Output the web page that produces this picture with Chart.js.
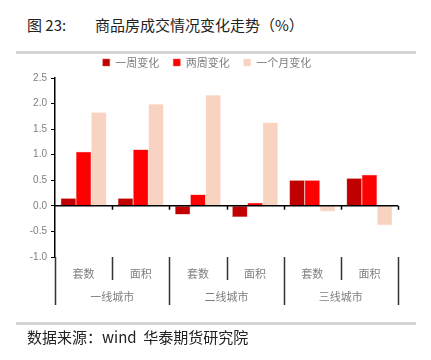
<!DOCTYPE html>
<html>
<head>
<meta charset="utf-8">
<script src="https://cdn.jsdelivr.net/npm/chart.js@4"></script>
<style>
  body { margin: 0; background: #fff; }
  #wrap { position: relative; width: 431px; height: 360px; }
  .title { position: absolute; top: 14px; font: 15px "Noto Sans CJK SC", sans-serif; color: #222; white-space: pre; }
  .rule { position: absolute; left: 16px; width: 400px; height: 3px; background: #d4d4d4; }
  #source { position: absolute; left: 27px; top: 326px; font: 15px "Noto Sans CJK SC", sans-serif; color: #222; white-space: pre; }
  canvas { position: absolute; left: 0; top: 0; }
</style>
</head>
<body>
<div id="wrap">
  <div class="title" style="left:27px">图 23:</div>
  <div class="title" style="left:95px">商品房成交情况变化走势（%）</div>
  <div class="rule" style="top:51px"></div>
  <canvas id="chart" width="431" height="360"></canvas>
  <div class="rule" style="top:322px"></div>
  <div id="source">数据来源：wind  华泰期货研究院</div>
</div>
<script>
// категории и серии
const subLabels = ['套数', '面积', '套数', '面积', '套数', '面积'];
const groupLabels = ['一线城市', '二线城市', '三线城市'];
const oneWeek = [0.15, 0.15, -0.17, -0.22, 0.50, 0.54];
const twoWeeks = [1.06, 1.10, 0.22, 0.06, 0.50, 0.61];
const oneMonth = [1.83, 1.99, 2.17, 1.63, -0.11, -0.38];
const yTicks = [2.5, 2.0, 1.5, 1.0, 0.5, 0.0, -0.5, -1.0];

const greyText = '#7f7f7f';
const fontCJK = '"Noto Sans CJK SC", sans-serif';

// линия нуля, разделители и подписи групп
const axisPlugin = {
    id: 'multiAxis',
    afterDatasetsDraw(chart) {
        const ctx = chart.ctx;
        const x = chart.scales.x, y = chart.scales.y;
        const area = chart.chartArea;
        const w = (area.right - area.left) / subLabels.length;
        const y0 = y.getPixelForValue(0);
        ctx.save();
        ctx.strokeStyle = '#000';
        ctx.lineWidth = 1.5;
        ctx.beginPath();
        ctx.moveTo(area.left, y0);
        ctx.lineTo(area.right, y0);
        for (let k = 1; k <= subLabels.length; k++) {
            const px = Math.round(area.left + k * w) + 0.5;
            ctx.moveTo(px, y0);
            ctx.lineTo(px, y0 + 4);
        }
        ctx.stroke();
        ctx.strokeStyle = '#333';
        ctx.beginPath();
        for (let k = 0; k <= subLabels.length; k++) {
            const px = Math.round(area.left + k * w) + 0.5;
            ctx.moveTo(px, area.bottom);
            ctx.lineTo(px, k % 2 === 0 ? area.bottom + 48 : area.bottom + 23);
        }
        ctx.stroke();
        ctx.fillStyle = greyText;
        ctx.font = '11px ' + fontCJK;
        ctx.textAlign = 'center';
        ctx.textBaseline = 'middle';
        groupLabels.forEach(function (g, i) {
            const cx = (x.getPixelForValue(i * 2) + x.getPixelForValue(i * 2 + 1)) / 2;
            ctx.fillText(g, cx, area.bottom + 40);
        });
        ctx.restore();
    }
};

new Chart(document.getElementById('chart'), {
    type: 'bar',
    data: {
        labels: subLabels,
        datasets: [
            { label: '一周变化', data: oneWeek, backgroundColor: '#C00000', borderColor: '#d85050', borderWidth: 0.5 },
            { label: '两周变化', data: twoWeeks, backgroundColor: '#FF0000', borderColor: '#ff5050', borderWidth: 0.5 },
            { label: '一个月变化', data: oneMonth, backgroundColor: '#F9D3C1', borderColor: '#fbe0d4', borderWidth: 0.5 }
        ]
    },
    options: {
        responsive: false,
        animation: false,
        layout: { padding: { top: 43, left: 16, right: 33, bottom: 55 } },
        datasets: { bar: { categoryPercentage: 0.8, barPercentage: 1.0 } },
        plugins: {
            legend: {
                position: 'top',
                labels: {
                    boxWidth: 7, boxHeight: 7, padding: 14,
                    color: greyText,
                    font: { size: 11, family: fontCJK }
                }
            },
            tooltip: { enabled: false }
        },
        scales: {
            x: {
                grid: { display: false },
                border: { display: false },
                ticks: { color: greyText, font: { size: 11, family: fontCJK }, padding: 2 },
                afterFit: function (s) { s.height = 48; }
            },
            y: {
                min: -1.0, max: 2.5,
                afterBuildTicks: function (s) { s.ticks = yTicks.map(v => ({ value: v })); },
                afterFit: function (s) { s.width = 39; },
                grid: { drawOnChartArea: false, tickLength: 4, color: '#000' },
                border: { display: true, color: '#000', width: 1.5 },
                ticks: {
                    color: greyText, padding: 4,
                    font: { size: 10, family: '"Liberation Sans", sans-serif' },
                    callback: function (v) { return Number(v).toFixed(1); }
                }
            }
        }
    },
    plugins: [axisPlugin]
});
</script>
</body>
</html>
